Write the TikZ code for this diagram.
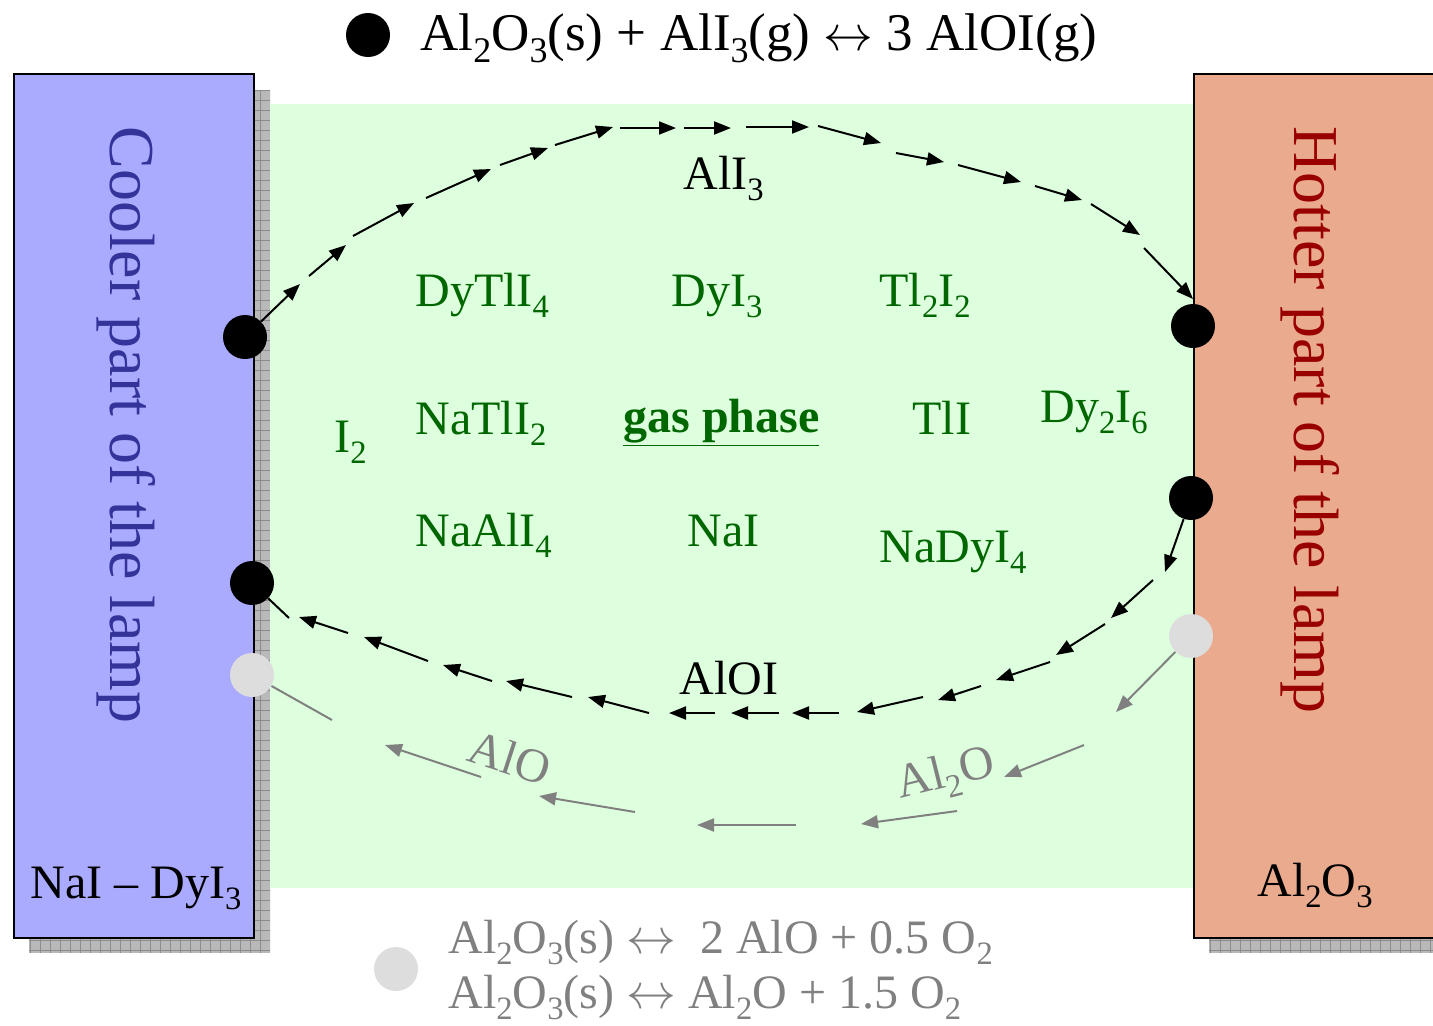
\documentclass[tikz,border=0pt]{standalone}
\usepackage{fontspec}
\usepackage{graphicx}
\setmainfont{Liberation Serif}
\usetikzlibrary{arrows.meta}
\definecolor{coolfill}{RGB}{170,170,255}
\definecolor{cooltext}{RGB}{51,51,153}
\definecolor{hotfill}{RGB}{234,170,142}
\definecolor{hottext}{RGB}{153,0,0}
\definecolor{gasfill}{RGB}{221,255,221}
\definecolor{gastext}{RGB}{0,102,0}
\definecolor{greyarrow}{RGB}{128,128,128}
\definecolor{greydot}{RGB}{221,221,221}
\definecolor{shadowfill}{RGB}{185,185,185}
\definecolor{shadowgrid}{RGB}{140,140,140}
\newcommand{\sbs}[1]{\raisebox{-0.24em}{\scalebox{0.68}{#1}}}
\newcommand{\lra}{$\leftrightarrow$}
\tikzset{
  arr/.style={line width=1pt,-{Triangle[length=8.5pt,width=6.5pt]}},
  plainline/.style={line width=1pt},
  garr/.style={greyarrow,line width=1pt,-{Triangle[length=8.5pt,width=6.5pt]}},
  gline/.style={greyarrow,line width=1pt},
  bdot/.style={circle,fill=black,inner sep=0pt,minimum size=22pt},
  gdot/.style={circle,fill=greydot,inner sep=0pt,minimum size=22pt},
  lampbox/.style={draw=black,line width=1pt},
  gaslbl/.style={text=gastext,font=\fontsize{24}{28}\selectfont,inner sep=0pt,anchor=base west},
  blklbl/.style={text=black,font=\fontsize{24}{28}\selectfont,inner sep=0pt,anchor=base west},
  sidelbl/.style={font=\fontsize{32}{36}\selectfont,rotate=-90,inner sep=0pt},
  greylbl/.style={text=greyarrow,font=\fontsize{24}{28}\selectfont,inner sep=0pt},
}
\begin{document}
\begin{tikzpicture}[x=0.5pt,y=-0.5pt]
\useasboundingbox (0,0) rectangle (1433,1025);
% shadows
\begin{scope}
  \fill[shadowfill] (29,90) rectangle (270,953);
  \clip (29,90) rectangle (270,953);
  \draw[shadowgrid,line width=0.3pt] (29,90) grid[step=5pt] (270,953);
\end{scope}
\begin{scope}
  \fill[shadowfill] (1209,90) rectangle (1449,953);
  \clip (1209,90) rectangle (1449,953);
  \draw[shadowgrid,line width=0.3pt] (1209,90) grid[step=5pt] (1449,953);
\end{scope}
% gas region
\fill[gasfill] (270,104) rectangle (1193,888);
% lamp boxes
\node[lampbox,fill=coolfill,minimum width=120pt,minimum height=432pt,inner sep=0pt,anchor=north west] (cool) at (12.5,73) {};
\node[lampbox,fill=hotfill,minimum width=120pt,minimum height=432pt,inner sep=0pt,anchor=north west] (hot) at (1193,73) {};
\node[sidelbl,text=cooltext] (coollbl) at (126,425) {Cooler part of the lamp};
\node[sidelbl,text=hottext] (hotlbl) at (1310,420) {Hotter part of the lamp};
\node[blklbl] (nadyi) at (30,898) {NaI – DyI\sbs{3}};
\node[blklbl] (alo3r) at (1257,896) {Al\sbs{2}O\sbs{3}};
% dots
\node[bdot] (cL1) at (245,337) {};
\node[bdot] (cR1) at (1193,326) {};
\node[bdot] (cR2) at (1191,498) {};
\node[bdot] (cL2) at (252,583) {};
\node[gdot] (gL) at (252,675) {};
\node[gdot] (gR) at (1191,636) {};
% top arc (AlI3)
\draw[arr] (cL1) -- (300,284);
\foreach \ax/\ay/\bx/\by in {309/276/346/245, 353/236/414/203, 426/198/491/169, 500/165/548/148,
  555/145/613/127, 620/128/676/128, 684/128/731/128, 746/127/809/127, 818/126/881/143,
  896/153/944/162, 958/165/1021/182, 1035/186/1082/200, 1091/204/1140/235, 1144/248/1193/299}
  \draw[arr] (\ax,\ay) -- (\bx,\by);
% bottom arc (AlOI)
\draw[arr] (cR2) -- (1165,572);
\foreach \ax/\ay/\bx/\by in {1153/580/1111/618, 1105/624/1056/655, 1050/662/996/680, 981/686/938/700,
  923/697/857/712, 839/713/792/713, 779/713/731/713, 715/713/669/713, 649/713/588/697,
  572/697/506/681, 492/681/443/665, 428/661/364/637, 348/633/299/617}
  \draw[arr] (\ax,\ay) -- (\bx,\by);
\coordinate (bEnd) at (289,618);
\draw[plainline] (bEnd) -- (cL2);
% grey path (AlO / Al2O)
\draw[garr] (gR) -- (1116,712);
\foreach \ax/\ay/\bx/\by in {1084/745/1004/777, 957/811/861/824, 796/825/697/825, 635/812/539/796, 481/777/385/745}
  \draw[garr] (\ax,\ay) -- (\bx,\by);
\coordinate (gEnd) at (332,720);
\draw[gline] (gEnd) -- (gL);
% labels on arcs
\node[blklbl] (all3) at (683,189) {AlI\sbs{3}};
\node[blklbl] (aloi) at (679,694) {AlOI};
\node[greylbl,rotate=-18] (alo) at (510,758) {AlO};
\node[greylbl,rotate=14] (al2o) at (946,776) {Al\sbs{2}O};
% gas phase species
\node[gaslbl] (dytli4) at (415,306) {DyTlI\sbs{4}};
\node[gaslbl] (dyi3) at (671,306) {DyI\sbs{3}};
\node[gaslbl] (tl2i2) at (879,306) {Tl\sbs{2}I\sbs{2}};
\node[gaslbl] (i2) at (334,452) {I\sbs{2}};
\node[gaslbl] (natli2) at (415,434) {NaTlI\sbs{2}};
\node[gaslbl] (gas) at (623,432) {\underline{\textbf{gas phase}}};
\node[gaslbl] (tli) at (912,434) {TlI};
\node[gaslbl] (dy2i6) at (1040,422) {Dy\sbs{2}I\sbs{6}};
\node[gaslbl] (naali4) at (415,546) {NaAlI\sbs{4}};
\node[gaslbl] (nai) at (687,546) {NaI};
\node[gaslbl] (nadyi4) at (879,562) {NaDyI\sbs{4}};
% top legend
\node[circle,fill=black,inner sep=0pt,minimum width=22pt,minimum height=22pt] (topdot) at (368,35) {};
\node[blklbl,font=\fontsize{26.5}{30}\selectfont] (topeq) at (420,50) {Al\sbs{2}O\sbs{3}(s) + AlI\sbs{3}(g) \lra{} 3 AlOI(g)};
% bottom legend
\node[gdot] (botdot) at (396,969) {};
\node[greylbl,anchor=base west] (boteq1) at (448,953) {Al\sbs{2}O\sbs{3}(s) \lra\ \ 2 AlO + 0.5 O\sbs{2}};
\node[greylbl,anchor=base west] (boteq2) at (448,1008) {Al\sbs{2}O\sbs{3}(s) \lra{} Al\sbs{2}O + 1.5 O\sbs{2}};
\end{tikzpicture}
\end{document}
